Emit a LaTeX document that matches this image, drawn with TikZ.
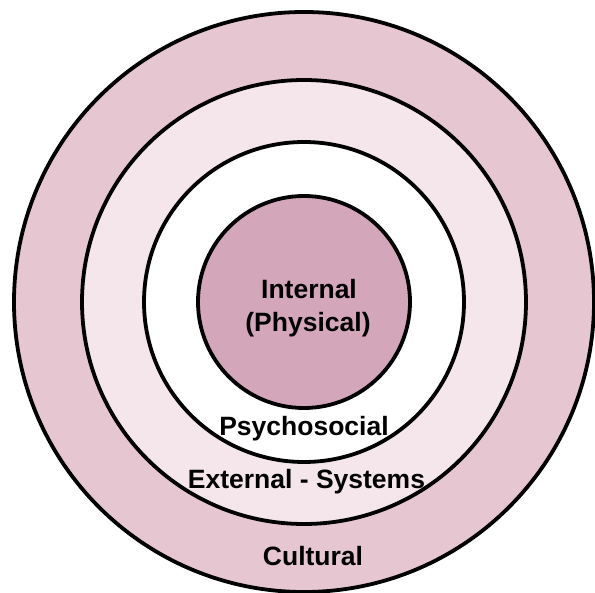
\documentclass[tikz,border=0pt]{standalone}
\usepackage{fontspec}
\setmainfont{Liberation Sans}
\definecolor{outerc}{RGB}{230,198,209}
\definecolor{midc}{RGB}{244,230,235}
\definecolor{innerc}{RGB}{212,166,185}
\tikzset{
  ring/.style={draw=black, line width=3.8pt},
  lbl/.style={font=\bfseries\fontsize{26.5}{31}\selectfont, anchor=base, inner sep=0pt}
}
\begin{document}
\begin{tikzpicture}[x=1pt,y=-1pt]
\useasboundingbox (0,0) rectangle (595,593);
\coordinate (c) at (304,302);
\fill[white] (0,0) rectangle (595,593);
\draw[ring, fill=outerc] (c) circle[radius=290];
\draw[ring, fill=midc] (c) circle[radius=222];
\draw[ring, fill=white] (c) circle[radius=160];
\draw[ring, fill=innerc] (c) circle[radius=106];
\node[lbl] (int) at (309,299) {Internal};
\node[lbl] (phy) at (308,332) {(Physical)};
\node[lbl] (psy) at (304,436) {Psychosocial};
\node[lbl] (ext) at (306.5,489) {External - Systems};
\node[lbl] (cul) at (313,566) {Cultural};
\end{tikzpicture}
\end{document}
